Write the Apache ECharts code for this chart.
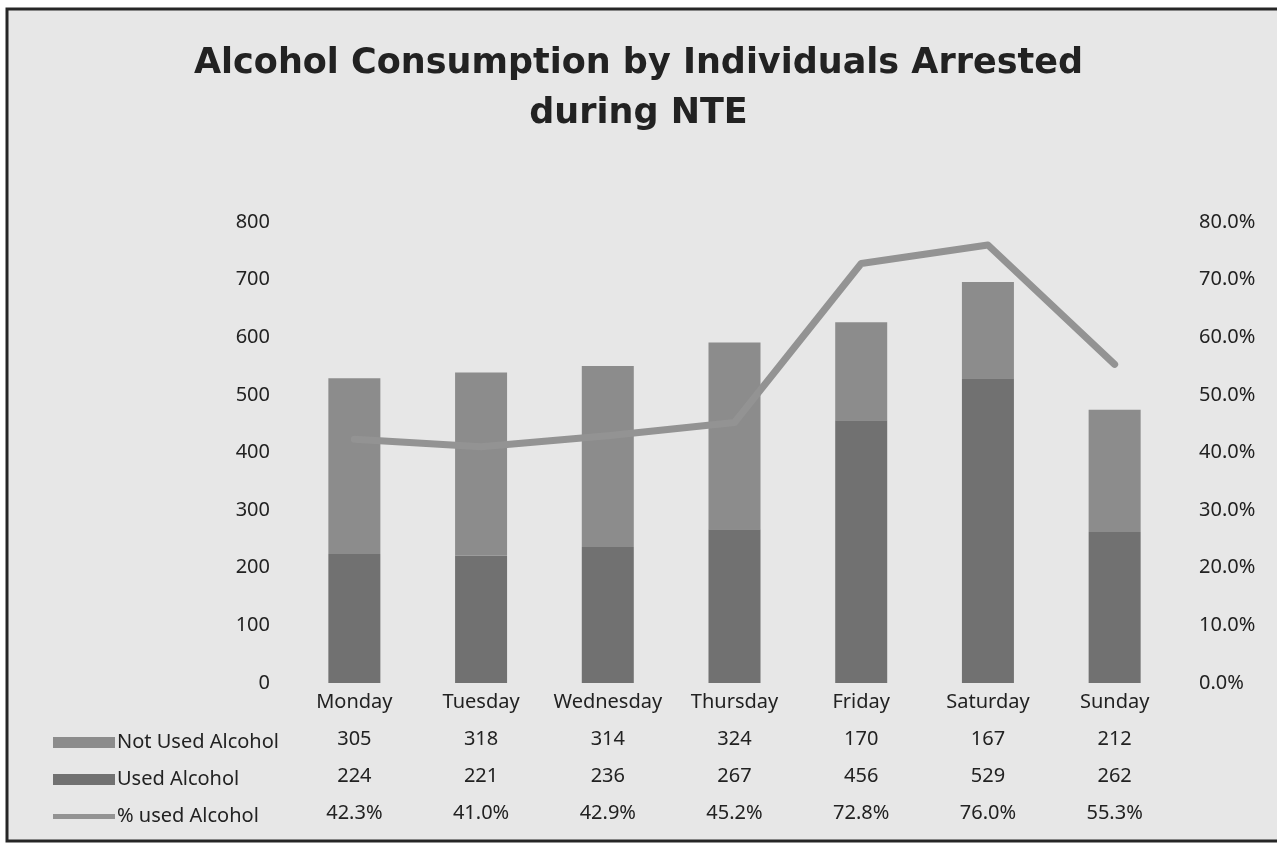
<!DOCTYPE html>
<html>
<head>
<meta charset="utf-8">
<title>Alcohol Consumption by Individuals Arrested during NTE</title>
<script src="https://cdn.jsdelivr.net/npm/echarts@6/dist/echarts.min.js"></script>
<style>
  html, body { margin: 0; padding: 0; background: #ffffff; }
  #chart { width: 1277px; height: 844px; }
</style>
</head>
<body>
<div id="chart"></div>
<script>
const days = ['Monday', 'Tuesday', 'Wednesday', 'Thursday', 'Friday', 'Saturday', 'Sunday'];
const notUsed = [305, 318, 314, 324, 170, 167, 212];
const used = [224, 221, 236, 267, 456, 529, 262];
const pctUsed = [42.3, 41.0, 42.9, 45.2, 72.8, 76.0, 55.3];

const FONT = '"Noto Sans", "DejaVu Sans", sans-serif';
const TEXT = '#222222';
const LINE_GREY = '#939393';

const chart = echarts.init(document.getElementById('chart'));

const option = {
  backgroundColor: 'transparent',
  textStyle: { fontFamily: FONT },
  title: {
    text: 'Alcohol Consumption by Individuals Arrested\nduring NTE',
    left: 'center',
    top: 34,
    textStyle: {
      fontFamily: '"DejaVu Sans", sans-serif',
      fontSize: 35,
      fontWeight: 'bold',
      color: TEXT,
      lineHeight: 50
    }
  },
  graphic: [
    {
      type: 'rect',
      z: -10,
      shape: { x: 7, y: 9, width: 1285, height: 832 },
      style: { fill: '#e7e7e7', stroke: '#262626', lineWidth: 3 }
    }
  ],
  legend: {
    orient: 'vertical',
    left: 48,
    top: 719,
    itemGap: 0,
    itemWidth: 62,
    itemHeight: 11,
    data: [
      { name: 'Not Used Alcohol', icon: 'rect' },
      { name: 'Used Alcohol', icon: 'rect' },
      { name: '% used Alcohol', icon: 'path://M0,0H62V5H0Z', itemStyle: { color: LINE_GREY } }
    ],
    textStyle: { color: TEXT, fontSize: 20, fontFamily: FONT, lineHeight: 37, padding: [0, 0, 0, -3] }
  },
  grid: { left: 291, right: 99, top: 222, bottom: 161, containLabel: false },
  xAxis: {
    type: 'category',
    data: days,
    axisLine: { show: false },
    axisTick: { show: false },
    axisLabel: {
      margin: 1,
      interval: 0,
      formatter: (value, idx) =>
        '{d|' + value + '}\n{v|' + notUsed[idx] + '}\n{v|' + used[idx] + '}\n{v|' + pctUsed[idx].toFixed(1) + '%}',
      rich: {
        d: { fontSize: 20, lineHeight: 37, color: TEXT, fontFamily: FONT },
        v: { fontSize: 20, lineHeight: 37, color: TEXT, fontFamily: FONT }
      }
    }
  },
  yAxis: [
    {
      type: 'value',
      min: 0,
      max: 800,
      interval: 100,
      splitLine: { show: false },
      axisLine: { show: false },
      axisTick: { show: false },
      axisLabel: { margin: 21, color: TEXT, fontSize: 20, fontFamily: FONT }
    },
    {
      type: 'value',
      min: 0,
      max: 80,
      interval: 10,
      splitLine: { show: false },
      axisLine: { show: false },
      axisTick: { show: false },
      axisLabel: {
        margin: 21,
        color: TEXT,
        fontSize: 20,
        fontFamily: FONT,
        formatter: v => v.toFixed(1) + '%'
      }
    }
  ],
  series: [
    {
      name: 'Used Alcohol',
      type: 'bar',
      stack: 'total',
      barWidth: 52,
      data: used,
      itemStyle: { color: '#717171' }
    },
    {
      name: 'Not Used Alcohol',
      type: 'bar',
      stack: 'total',
      barWidth: 52,
      data: notUsed,
      itemStyle: { color: '#8c8c8c' }
    },
    {
      name: '% used Alcohol',
      type: 'line',
      yAxisIndex: 1,
      data: pctUsed,
      symbol: 'none',
      z: 5,
      lineStyle: { width: 7, color: LINE_GREY, cap: 'round', join: 'round' },
      itemStyle: { color: LINE_GREY }
    }
  ]
};

chart.setOption(option);
window.addEventListener('resize', () => chart.resize());
</script>
</body>
</html>
